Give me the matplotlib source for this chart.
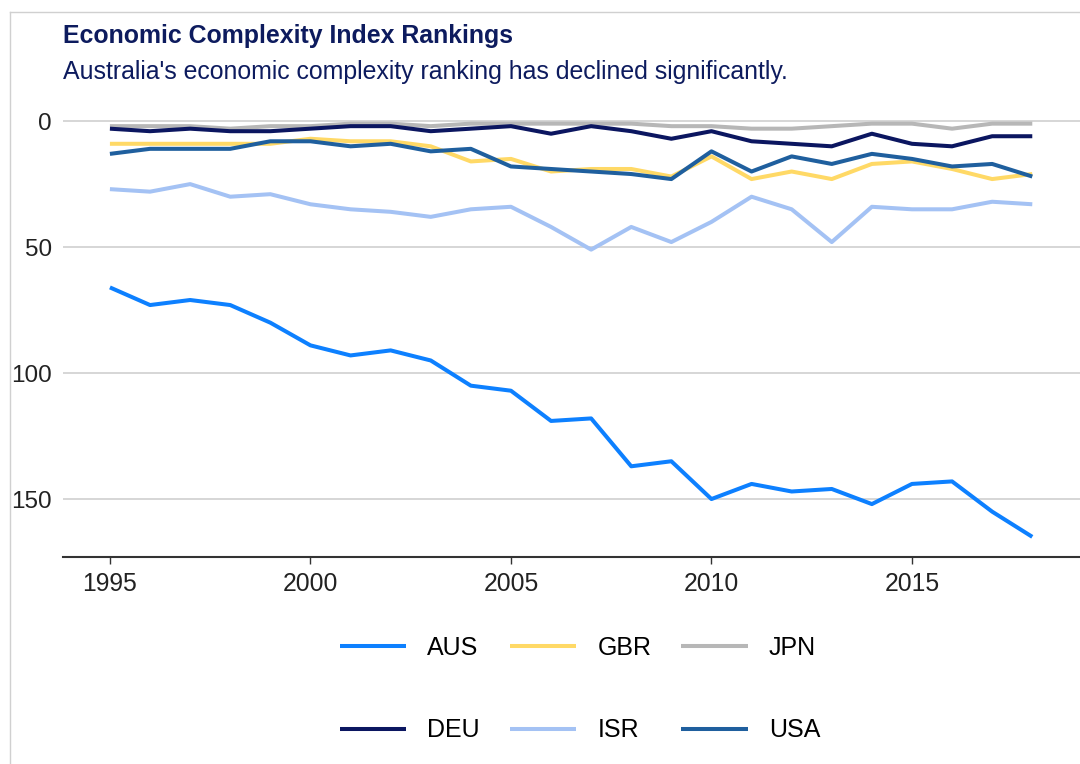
import matplotlib.pyplot as plt
from matplotlib.lines import Line2D

plt.rcParams['font.family'] = ['Liberation Sans', 'DejaVu Sans']

years = list(range(1995, 2019))

# ECI ranking per country (1 = most complex)
aus = [66, 73, 71, 73, 80, 89, 93, 91, 95, 105, 107, 119, 118, 137, 135, 150,
       144, 147, 146, 152, 144, 143, 155, 165]
gbr = [9, 9, 9, 9, 9, 7, 8, 8, 10, 16, 15, 20, 19, 19, 22, 14,
       23, 20, 23, 17, 16, 19, 23, 21]
jpn = [2, 2, 2, 3, 2, 2, 1, 1, 2, 1, 1, 1, 1, 1, 2, 2,
       3, 3, 2, 1, 1, 3, 1, 1]
deu = [3, 4, 3, 4, 4, 3, 2, 2, 4, 3, 2, 5, 2, 4, 7, 4,
       8, 9, 10, 5, 9, 10, 6, 6]
isr = [27, 28, 25, 30, 29, 33, 35, 36, 38, 35, 34, 42, 51, 42, 48, 40,
       30, 35, 48, 34, 35, 35, 32, 33]
usa = [13, 11, 11, 11, 8, 8, 10, 9, 12, 11, 18, 19, 20, 21, 23, 12,
       20, 14, 17, 13, 15, 18, 17, 22]

countries = ['AUS', 'GBR', 'JPN', 'DEU', 'ISR', 'USA']
series = [aus, gbr, jpn, deu, isr, usa]
colors = ['#0d80ff', '#ffd966', '#b7b7b7', '#0b1660', '#a4c2f4', '#1f5f9e']

yticks = [0, 50, 100, 150]
xticks = [1995, 2000, 2005, 2010, 2015]

title_color = '#0d1b5e'

fig = plt.figure(figsize=(10.8, 7.64), dpi=100)
ax = fig.add_axes([63 / 1080, 1 - 557 / 764, 1 - 63 / 1080, (557 - 106) / 764])

for name, vals, c in zip(countries, series, colors):
    ax.plot(years, vals, color=c, lw=2.9, label=name, solid_capstyle='butt')

ax.set_xlim(1993.83, 2019.19)
ax.set_ylim(173, -6)
ax.set_yticks(yticks)
ax.set_xticks(xticks)
ax.grid(axis='y', color='#cccccc', lw=1.1)
ax.set_axisbelow(True)
for s in ['top', 'right', 'left']:
    ax.spines[s].set_visible(False)
ax.spines['bottom'].set_color('#333333')
ax.spines['bottom'].set_linewidth(1.5)
ax.tick_params(axis='y', length=0, pad=8, labelsize=17.5, labelcolor='#222222')
ax.tick_params(axis='x', length=5, width=1, color='#333333', pad=6,
               labelsize=17.8, labelcolor='#222222')

fig.text(63 / 1080, 1 - 36 / 764, 'Economic Complexity Index Rankings',
         fontsize=17.9, fontweight='bold', color=title_color, va='center')
fig.text(63 / 1080, 1 - 72 / 764,
         "Australia's economic complexity ranking has declined significantly.",
         fontsize=17.9, color=title_color, va='center')

# card border (left and top edges visible)
fig.add_artist(Line2D([10 / 1080, 10 / 1080], [0, 1 - 12 / 764],
                      color='#d0d0d0', lw=1, transform=fig.transFigure))
fig.add_artist(Line2D([10 / 1080, 1], [1 - 12 / 764, 1 - 12 / 764],
                      color='#d0d0d0', lw=1, transform=fig.transFigure))

# legend: 2 rows x 3 cols, column-major order for matplotlib
handles, labels = ax.get_legend_handles_labels()
order = [0, 3, 1, 4, 2, 5]
leg = fig.legend([handles[i] for i in order], [labels[i] for i in order],
                 ncol=3, loc='center', bbox_to_anchor=(580 / 1080, 1 - 689 / 764),
                 frameon=False, fontsize=18, handlelength=2.65,
                 handletextpad=0.85, columnspacing=1.2, labelspacing=2.35)

fig.savefig('out.png', dpi=100, facecolor='white')
